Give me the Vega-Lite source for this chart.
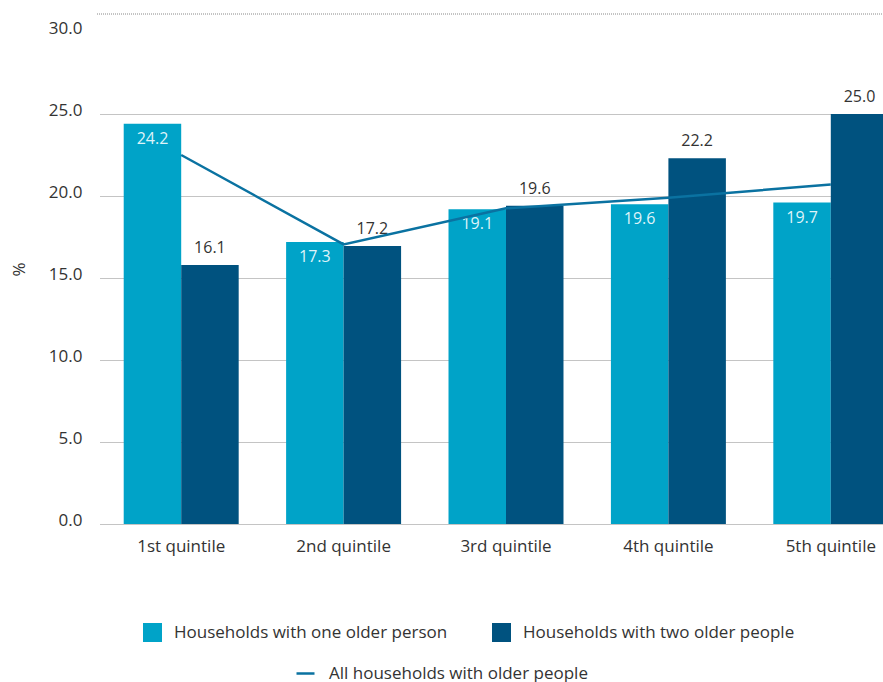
{
  "$schema": "https://vega.github.io/schema/vega-lite/v6.json",
  "autosize": "none",
  "width": 783,
  "height": 510,
  "padding": {"left": 100, "top": 14, "right": 0, "bottom": 158},
  "config": {
    "font": "Open Sans",
    "view": {"stroke": null},
    "axis": {"labelColor": "#333333", "labelFontSize": 17, "labelFontWeight": "normal", "titleFontWeight": "normal"},
    "legend": {"labelFontSize": 17, "labelColor": "#333333", "labelLimit": 0, "padding": 0}
  },
  "datasets": {
    "bars": [
      {"quintile": "1st quintile", "group": "Households with one older person", "value": 24.4, "label": "24.2"},
      {"quintile": "1st quintile", "group": "Households with two older people", "value": 15.8, "label": "16.1"},
      {"quintile": "2nd quintile", "group": "Households with one older person", "value": 17.2, "label": "17.3"},
      {"quintile": "2nd quintile", "group": "Households with two older people", "value": 16.95, "label": "17.2"},
      {"quintile": "3rd quintile", "group": "Households with one older person", "value": 19.2, "label": "19.1"},
      {"quintile": "3rd quintile", "group": "Households with two older people", "value": 19.4, "label": "19.6"},
      {"quintile": "4th quintile", "group": "Households with one older person", "value": 19.5, "label": "19.6"},
      {"quintile": "4th quintile", "group": "Households with two older people", "value": 22.3, "label": "22.2"},
      {"quintile": "5th quintile", "group": "Households with one older person", "value": 19.6, "label": "19.7"},
      {"quintile": "5th quintile", "group": "Households with two older people", "value": 25.0, "label": "25.0"}
    ],
    "line": [
      {"quintile": "1st quintile", "series": "All households with older people", "value": 22.5},
      {"quintile": "2nd quintile", "series": "All households with older people", "value": 17.05},
      {"quintile": "3rd quintile", "series": "All households with older people", "value": 19.25},
      {"quintile": "4th quintile", "series": "All households with older people", "value": 19.9},
      {"quintile": "5th quintile", "series": "All households with older people", "value": 20.7}
    ],
    "frame": [{"top": 31.1}]
  },
  "encoding": {
    "x": {
      "field": "quintile",
      "type": "nominal",
      "sort": null,
      "scale": {"range": [0, 812], "paddingInner": 0.292, "paddingOuter": 0.146},
      "axis": {"title": null, "labelAngle": 0, "domain": false, "ticks": false, "labelPadding": 14, "grid": false}
    }
  },
  "layer": [
    {
      "data": {"name": "bars"},
      "mark": {"type": "bar"},
      "encoding": {
        "xOffset": {"field": "group", "type": "nominal", "sort": null},
        "y": {
          "field": "value",
          "type": "quantitative",
          "scale": {"domain": [0, 31.1], "nice": false, "zero": true},
          "axis": {
            "title": "%",
            "titleFontSize": 17,
            "titleColor": "#333333",
            "titlePadding": 20,
            "values": [0, 5, 10, 15, 20, 25, 30],
            "format": ".1f",
            "domain": false,
            "ticks": false,
            "labelPadding": 18,
            "labelOffset": -4,
            "grid": true,
            "gridColor": "#888888",
            "gridDash": [1, 1],
            "gridWidth": 1,
            "gridOpacity": {"condition": {"test": "datum.value == 30", "value": 0}, "value": 1}
          }
        },
        "color": {
          "field": "group",
          "type": "nominal",
          "sort": null,
          "scale": {"domain": ["Households with one older person", "Households with two older people"], "range": ["#00a3c8", "#00527f"]},
          "legend": {
            "title": null,
            "orient": "none",
            "direction": "horizontal",
            "legendX": 43,
            "legendY": 609,
            "symbolType": "square",
            "symbolSize": 361,
            "symbolStrokeWidth": 0,
            "labelOffset": 12,
            "columnPadding": 44
          }
        }
      }
    },
    {
      "data": {"name": "bars"},
      "transform": [{"filter": "datum.group == 'Households with one older person'"}],
      "mark": {"type": "text", "dy": 15, "fontSize": 16, "color": "#dff3f9", "baseline": "middle"},
      "encoding": {
        "xOffset": {"field": "group", "type": "nominal", "sort": null},
        "y": {"field": "value", "type": "quantitative"},
        "text": {"field": "label"}
      }
    },
    {
      "data": {"name": "bars"},
      "transform": [{"filter": "datum.group == 'Households with two older people'"}],
      "mark": {"type": "text", "dy": -17, "fontSize": 16, "color": "#333333", "baseline": "middle"},
      "encoding": {
        "xOffset": {"field": "group", "type": "nominal", "sort": null},
        "y": {"field": "value", "type": "quantitative"},
        "text": {"field": "label"}
      }
    },
    {
      "data": {"name": "line"},
      "mark": {"type": "line", "strokeWidth": 2.5},
      "encoding": {
        "y": {"field": "value", "type": "quantitative"},
        "stroke": {
          "field": "series",
          "type": "nominal",
          "scale": {"range": ["#0a72a1"]},
          "legend": {
            "title": null,
            "orient": "none",
            "legendX": 195,
            "legendY": 649,
            "symbolType": "stroke",
            "symbolSize": 324,
            "symbolStrokeWidth": 2.5,
            "labelOffset": 13
          }
        }
      }
    },
    {
      "data": {"name": "frame"},
      "mark": {"type": "rule", "color": "#888888", "strokeDash": [1, 1], "strokeWidth": 1},
      "encoding": {
        "x": {"value": -3},
        "x2": {"value": 783},
        "y": {"field": "top", "type": "quantitative"}
      }
    }
  ]
}
